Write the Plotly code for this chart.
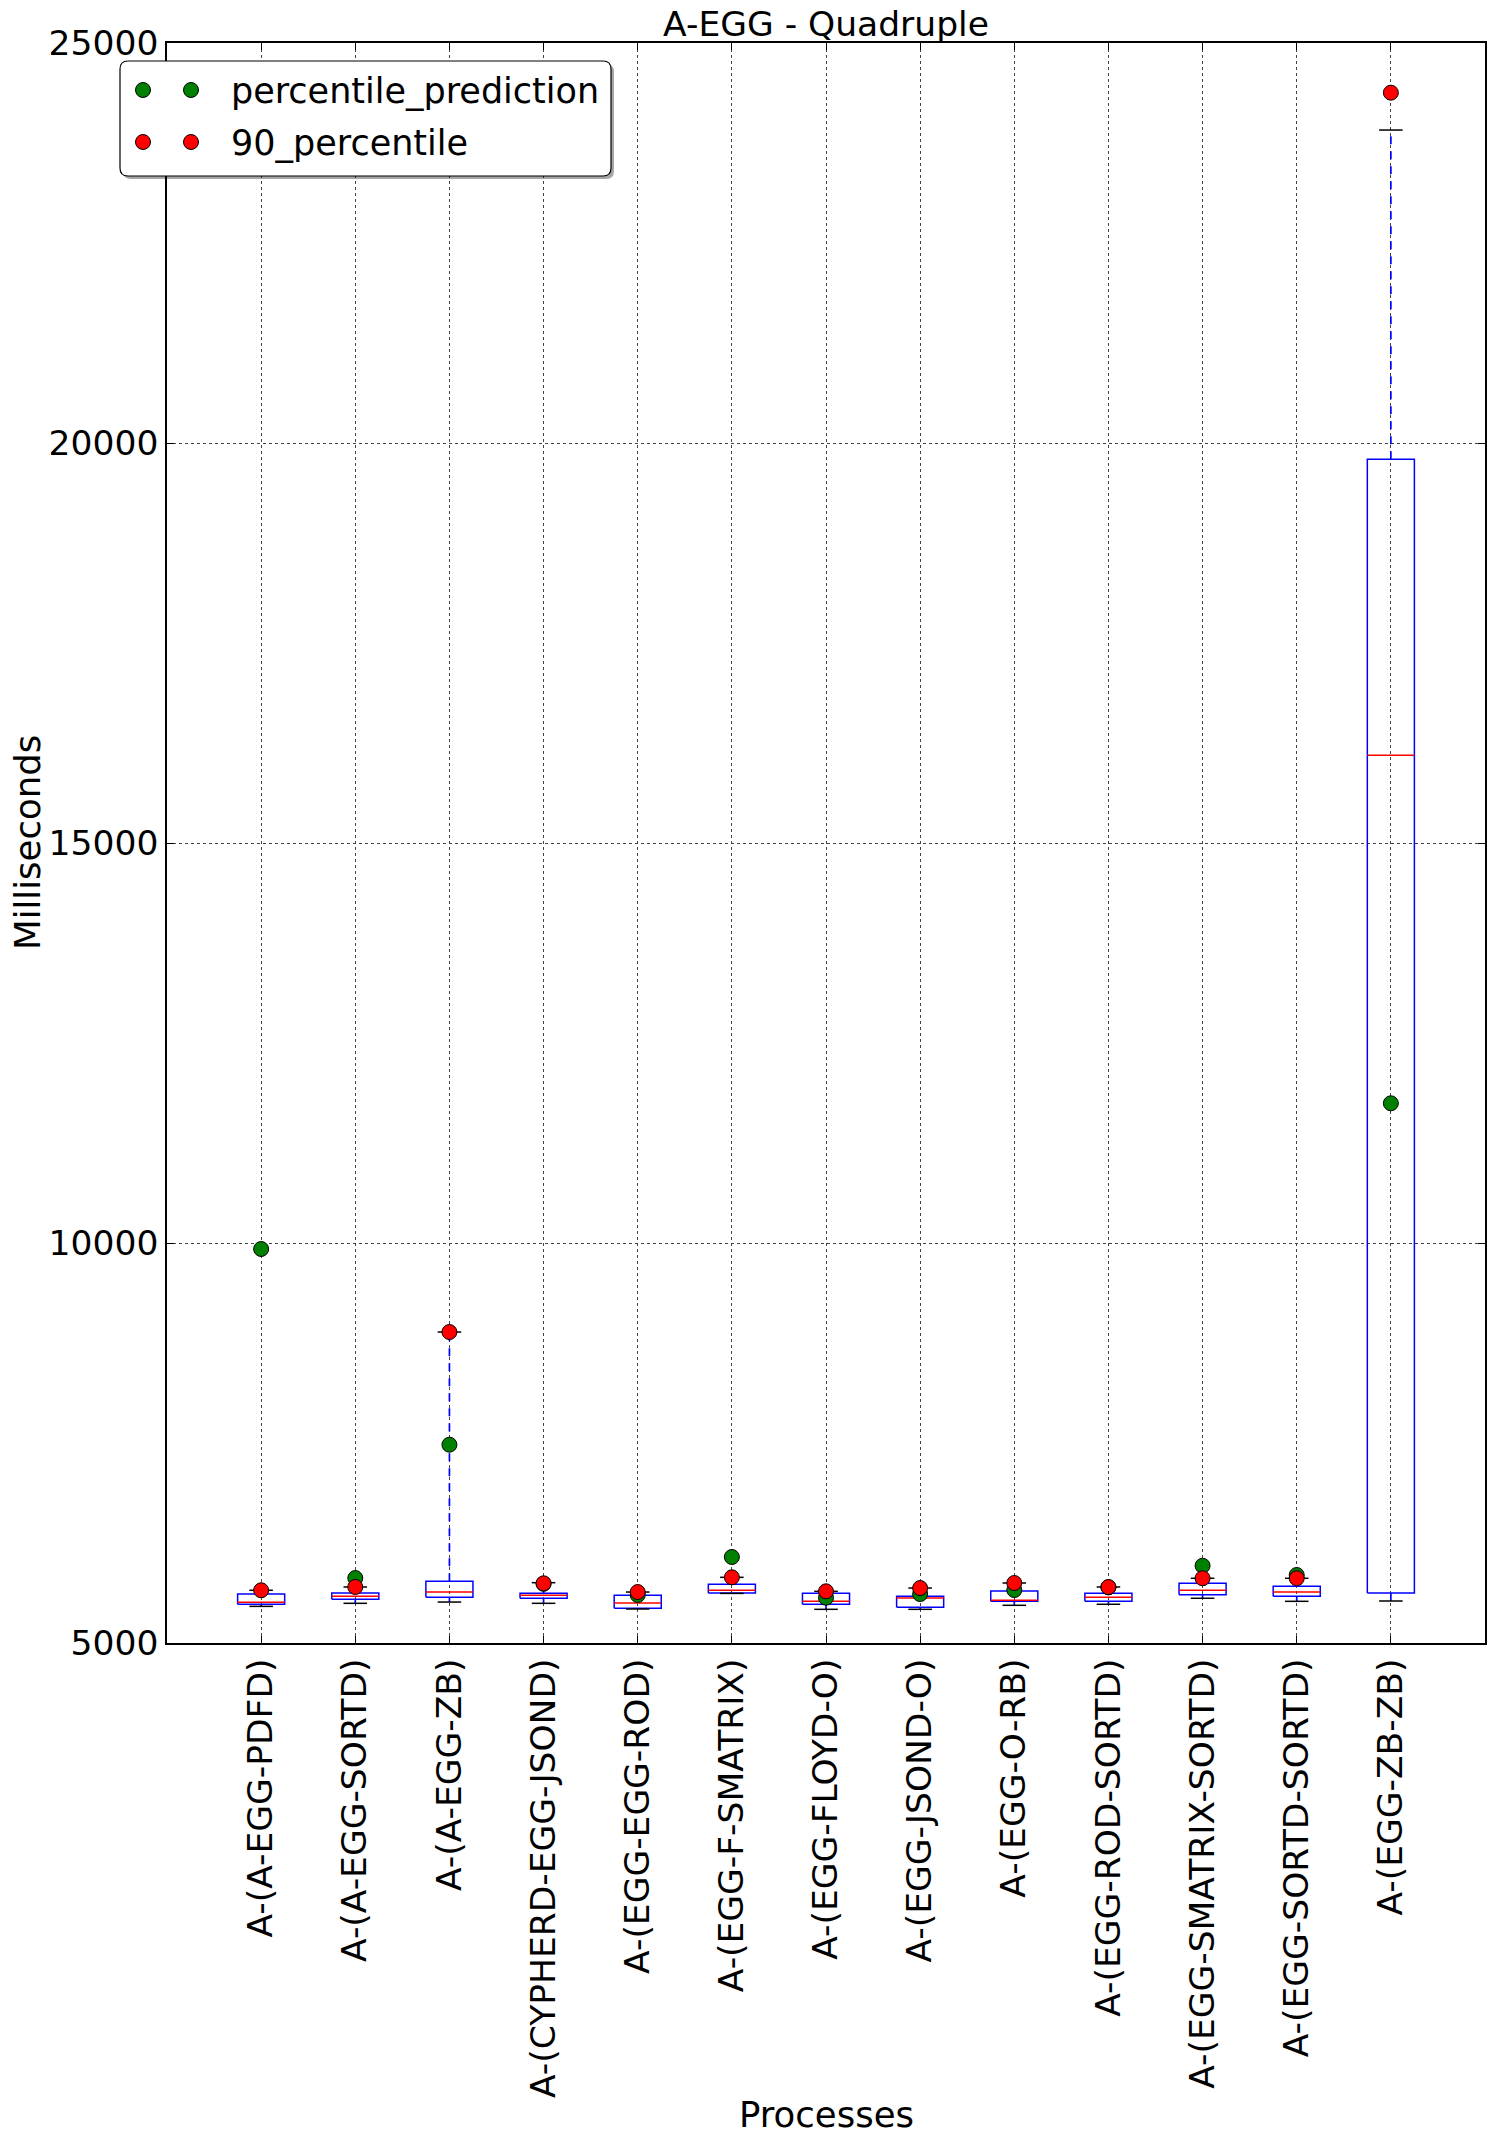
import plotly.graph_objects as go

# ---------------- data ----------------
categories = [
    "A-(A-EGG-PDFD)", "A-(A-EGG-SORTD)", "A-(A-EGG-ZB)", "A-(CYPHERD-EGG-JSOND)",
    "A-(EGG-EGG-ROD)", "A-(EGG-F-SMATRIX)", "A-(EGG-FLOYD-O)", "A-(EGG-JSOND-O)",
    "A-(EGG-O-RB)", "A-(EGG-ROD-SORTD)", "A-(EGG-SMATRIX-SORTD)", "A-(EGG-SORTD-SORTD)",
    "A-(EGG-ZB-ZB)",
]
q1 = [5483, 5546, 5571, 5559, 5434, 5625, 5484, 5446, 5521, 5521, 5604, 5584, 5625]
median = [5508, 5584, 5637, 5596, 5500, 5659, 5521, 5562, 5534, 5571, 5659, 5637, 16096]
q3 = [5612, 5625, 5771, 5621, 5596, 5734, 5621, 5584, 5650, 5621, 5746, 5709, 19796]
whisker_low = [5458, 5496, 5512, 5496, 5425, 5620, 5421, 5421, 5471, 5484, 5559, 5521, 5525]
whisker_high = [5659, 5700, 8887, 5754, 5637, 5821, 5646, 5687, 5750, 5700, 5809, 5809, 23912]
percentile_prediction = [9925, 5812, 7479, 5740, 5600, 6075, 5566, 5612, 5662, 5695, 5966, 5850, 11746]
percentile_90 = [5659, 5700, 8887, 5746, 5637, 5821, 5646, 5687, 5750, 5700, 5809, 5809, 24379]

y_ticks = [5000, 10000, 15000, 20000, 25000]

# ---------------- layout constants ----------------
W, H = 1494, 2142
L, R, T, B = 167, 9, 43, 499
PW, PH = W - L - R, H - T - B
FONT = "DejaVu Sans"
FS = 34.5

def px_x(p):
    return (p - L) / PW

def px_y(p):
    return (H - B - p) / PH

positions = list(range(1, len(categories) + 1))
half_box = 0.25
half_cap = 0.125

# box outlines
bx, by = [], []
for i, a, b in zip(positions, q1, q3):
    bx += [i - half_box, i + half_box, i + half_box, i - half_box, i - half_box, None]
    by += [a, a, b, b, a, None]

# medians
mx, my = [], []
for i, m in zip(positions, median):
    mx += [i - half_box, i + half_box, None]
    my += [m, m, None]

# whiskers
wx, wy = [], []
for i, a, b, lo, hi in zip(positions, q1, q3, whisker_low, whisker_high):
    wx += [i, i, None, i, i, None]
    wy += [b, hi, None, a, lo, None]

# caps
cx, cy = [], []
for i, lo, hi in zip(positions, whisker_low, whisker_high):
    cx += [i - half_cap, i + half_cap, None, i - half_cap, i + half_cap, None]
    cy += [lo, lo, None, hi, hi, None]

fig = go.Figure()
fig.add_trace(go.Scatter(x=wx, y=wy, mode="lines", showlegend=False, hoverinfo="skip",
                         line=dict(color="#0000ff", width=1.7, dash="8px,7px")))
fig.add_trace(go.Scatter(x=bx, y=by, mode="lines", showlegend=False, hoverinfo="skip",
                         line=dict(color="#0000ff", width=1.5)))
fig.add_trace(go.Scatter(x=cx, y=cy, mode="lines", showlegend=False, hoverinfo="skip",
                         line=dict(color="#000000", width=1.5)))
fig.add_trace(go.Scatter(x=mx, y=my, mode="lines", showlegend=False, hoverinfo="skip",
                         line=dict(color="#ff0000", width=1.5)))
fig.add_trace(go.Scatter(x=positions, y=percentile_prediction, mode="markers",
                         name="percentile_prediction", showlegend=False,
                         marker=dict(color="#008000", size=15, line=dict(color="#000000", width=1))))
fig.add_trace(go.Scatter(x=positions, y=percentile_90, mode="markers",
                         name="90_percentile", showlegend=False,
                         marker=dict(color="#ff0000", size=15, line=dict(color="#000000", width=1))))

axis_common = dict(
    showline=True, linecolor="#000000", linewidth=1.5, mirror="ticks",
    ticks="inside", ticklen=7, tickwidth=1.2, tickcolor="#000000",
    showgrid=True, gridcolor="#444444", gridwidth=1, griddash="dot",
    zeroline=False, tickfont=dict(family=FONT, size=FS, color="#000000"),
)

fig.update_xaxes(range=[0, len(categories) + 1], tickmode="array", tickvals=positions,
                 ticktext=categories, tickangle=-90, **axis_common)
fig.update_yaxes(range=[y_ticks[0], y_ticks[-1]], tickmode="array", tickvals=y_ticks,
                 ticktext=[str(v) for v in y_ticks], **axis_common)

# ---------------- legend (matplotlib style, drawn manually) ----------------
def rounded_path(x0, y0, x1, y1, r):
    X0, X1 = px_x(x0), px_x(x1)
    Y0, Y1 = px_y(y0), px_y(y1)
    rx, ry = r / PW, r / PH
    return (f"M {X0+rx},{Y0} L {X1-rx},{Y0} Q {X1},{Y0} {X1},{Y0-ry} "
            f"L {X1},{Y1+ry} Q {X1},{Y1} {X1-rx},{Y1} L {X0+rx},{Y1} "
            f"Q {X0},{Y1} {X0},{Y1+ry} L {X0},{Y0-ry} Q {X0},{Y0} {X0+rx},{Y0} Z")

shapes = []
lx0, ly0, lx1, ly1 = 120, 61, 611, 176
shapes.append(dict(type="path", xref="paper", yref="paper",
                   path=rounded_path(lx0 + 3, ly0 + 3, lx1 + 3, ly1 + 3, 8),
                   fillcolor="rgba(0,0,0,0.35)", line=dict(width=0), layer="above"))
shapes.append(dict(type="path", xref="paper", yref="paper",
                   path=rounded_path(lx0, ly0, lx1, ly1, 8),
                   fillcolor="#ffffff", line=dict(color="#000000", width=1.2), layer="above"))

legend_items = [("percentile_prediction", "#008000", 90), ("90_percentile", "#ff0000", 142)]
annotations = []
for label, color, yy in legend_items:
    for xx in (143, 191):
        shapes.append(dict(type="circle", xref="paper", yref="paper",
                           xsizemode="pixel", ysizemode="pixel",
                           xanchor=px_x(xx), yanchor=px_y(yy),
                           x0=-7.5, x1=7.5, y0=-7.5, y1=7.5,
                           fillcolor=color, line=dict(color="#000000", width=1), layer="above"))
    annotations.append(dict(text=label, xref="paper", yref="paper", x=px_x(229), y=px_y(yy + 1),
                            xanchor="left", yanchor="middle", showarrow=False,
                            font=dict(family=FONT, size=35, color="#000000")))

# axis titles
annotations.append(dict(text="Milliseconds", xref="paper", yref="paper",
                        x=px_x(27), y=0.5, xanchor="center", yanchor="middle",
                        textangle=-90, showarrow=False,
                        font=dict(family=FONT, size=35.5, color="#000000")))
annotations.append(dict(text="Processes", xref="paper", yref="paper",
                        x=0.5, y=px_y(2114), xanchor="center", yanchor="middle",
                        showarrow=False, font=dict(family=FONT, size=35.5, color="#000000")))

fig.update_layout(
    width=W, height=H,
    margin=dict(l=L, r=R, t=T, b=B, autoexpand=False),
    paper_bgcolor="#ffffff", plot_bgcolor="#ffffff",
    title=dict(text="A-EGG - Quadruple", x=0.5, xref="paper", xanchor="center",
               y=1 - 24 / H, yref="container", yanchor="middle",
               font=dict(family=FONT, size=34.5, color="#000000")),
    font=dict(family=FONT, size=FS, color="#000000"),
    shapes=shapes, annotations=annotations, showlegend=False,
)

fig.write_html("out.html")
